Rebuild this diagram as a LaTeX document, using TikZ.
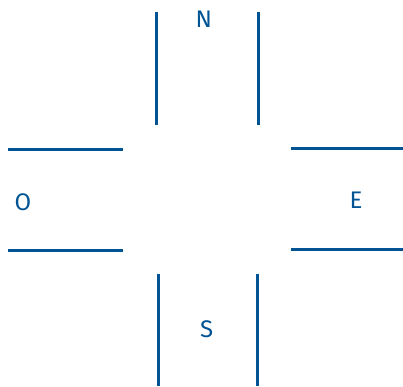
\documentclass[tikz,border=0pt]{standalone}
\usepackage{fontspec}
\setmainfont{Fira Sans}
\definecolor{road}{RGB}{0,84,147}
\begin{document}
\begin{tikzpicture}[x=1pt,y=-1pt,
  edge/.style={draw=road,line width=3pt},
  lbl/.style={text=road,font=\fontsize{24}{28}\selectfont,inner sep=0pt,anchor=center}]
\useasboundingbox (0,0) rectangle (403,386);
% North
\coordinate (n1a) at (156.5,12); \coordinate (n1b) at (156.5,125);
\coordinate (n2a) at (258,12); \coordinate (n2b) at (258,125);
\draw[edge] (n1a) -- (n1b);
\draw[edge] (n2a) -- (n2b);
% West
\coordinate (w1a) at (8,149.5); \coordinate (w1b) at (123,149.5);
\coordinate (w2a) at (8,250); \coordinate (w2b) at (123,250);
\draw[edge] (w1a) -- (w1b);
\draw[edge] (w2a) -- (w2b);
% East
\coordinate (e1a) at (291,148.5); \coordinate (e1b) at (403,148.5);
\coordinate (e2a) at (291,249.3); \coordinate (e2b) at (403,249.3);
\draw[edge] (e1a) -- (e1b);
\draw[edge] (e2a) -- (e2b);
% South
\coordinate (s1a) at (158.3,274); \coordinate (s1b) at (158.3,386);
\coordinate (s2a) at (257.3,274); \coordinate (s2b) at (257.3,386);
\draw[edge] (s1a) -- (s1b);
\draw[edge] (s2a) -- (s2b);
% Labels
\node[lbl] (N) at (203.7,19.5) {N};
\node[lbl] (O) at (23,202) {O};
\node[lbl] (E) at (356,200.5) {E};
\node[lbl] (S) at (206.7,329.7) {S};
\end{tikzpicture}
\end{document}
